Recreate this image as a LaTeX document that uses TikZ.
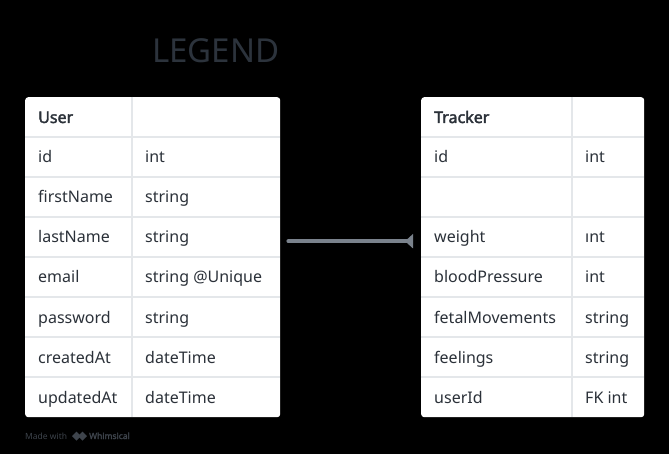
\documentclass[tikz,border=0pt]{standalone}
\usepackage{fontspec}
\setmainfont{Noto Sans}
\newfontfamily\headfont{Noto Sans}[FakeBold=2.2]
\usetikzlibrary{arrows.meta}
\definecolor{txt}{HTML}{2B3139}
\definecolor{gridc}{HTML}{E4E7EA}
\definecolor{conn}{HTML}{7A828C}
\definecolor{legendc}{HTML}{2C333C}
\definecolor{madec}{HTML}{3E444C}
\begin{document}
\begin{tikzpicture}[x=1pt,y=-1pt,
  cell/.style={anchor=base west, inner sep=0pt, text=txt, font=\fontsize{16}{18}\selectfont},
  headcell/.style={cell, font=\headfont\fontsize{16}{18}\selectfont},
  tablebox/.style={fill=white, rounded corners=3pt, inner sep=0pt, anchor=north west},
  gridline/.style={draw=gridc, line width=2pt},
  connector/.style={draw=conn, line width=4pt, line cap=round, -{Triangle[reversed,length=8pt,width=14pt,line cap=butt]}},
]
\fill[black] (0,0) rectangle (669,454);
\useasboundingbox (0,0) rectangle (669,454);

\node[anchor=base west, inner sep=0pt, text=legendc, font=\fontsize{33}{36}\selectfont] (legend) at (152,63) {LEGEND};

% User table
\node[tablebox, minimum width=255pt, minimum height=320pt] (user) at (25,97) {};
\foreach \yy in {137,177,217,257,297,337,377} \draw[gridline] (25,\yy) -- (280,\yy);
\draw[gridline] (132,97) -- (132,417);
\node[headcell] (uh) at (38,123) {User};
\node[cell] (u1) at (38,163) {id};          \node[cell] (u1t) at (145,163) {int};
\node[cell] (u2) at (38,203) {firstName};   \node[cell] (u2t) at (145,203) {string};
\node[cell] (u3) at (38,243) {lastName};    \node[cell] (u3t) at (145,243) {string};
\node[cell] (u4) at (38,283) {email};       \node[cell] (u4t) at (145,283) {string @Unique};
\node[cell] (u5) at (38,323) {password};    \node[cell] (u5t) at (145,323) {string};
\node[cell] (u6) at (38,363) {createdAt};   \node[cell] (u6t) at (145,363) {dateTime};
\node[cell] (u7) at (38,403) {updatedAt};   \node[cell] (u7t) at (145,403) {dateTime};

% Tracker table
\node[tablebox, minimum width=223pt, minimum height=320pt] (tracker) at (421,97) {};
\foreach \yy in {137,177,217,257,297,337,377} \draw[gridline] (421,\yy) -- (644,\yy);
\draw[gridline] (572,97) -- (572,417);
\node[headcell] (th) at (434,123) {Tracker};
\node[cell] (t1) at (434,163) {id};             \node[cell] (t1t) at (585,163) {int};
\node[cell] (t3) at (434,243) {weight};         \node[cell] (t3t) at (585,243) {ınt};
\node[cell] (t4) at (434,283) {bloodPressure};  \node[cell] (t4t) at (585,283) {int};
\node[cell] (t5) at (434,323) {fetalMovements}; \node[cell] (t5t) at (585,323) {string};
\node[cell] (t6) at (434,363) {feelings};       \node[cell] (t6t) at (585,363) {string};
\node[cell] (t7) at (434,403) {userId};         \node[cell] (t7t) at (585,403) {FK int};

% connector
\draw[connector] ([xshift=8pt,yshift=16pt]user.east) -- ([xshift=-8pt,yshift=16pt]tracker.west);

% footer
\node[anchor=base west, inner sep=0pt, text=madec, font=\fontsize{8.5}{9}\selectfont] (made) at (25,439) {Made with};
\fill[madec] (72,436) -- (76.5,431.5) -- (81,436) -- (76.5,440.5) -- cycle;
\fill[madec] (78,436) -- (82.5,431.5) -- (87,436) -- (82.5,440.5) -- cycle;
\node[anchor=base west, inner sep=0pt, text=madec, font=\headfont\fontsize{8.5}{9}\selectfont] (whim) at (89,439) {Whimsical};
\end{tikzpicture}
\end{document}
